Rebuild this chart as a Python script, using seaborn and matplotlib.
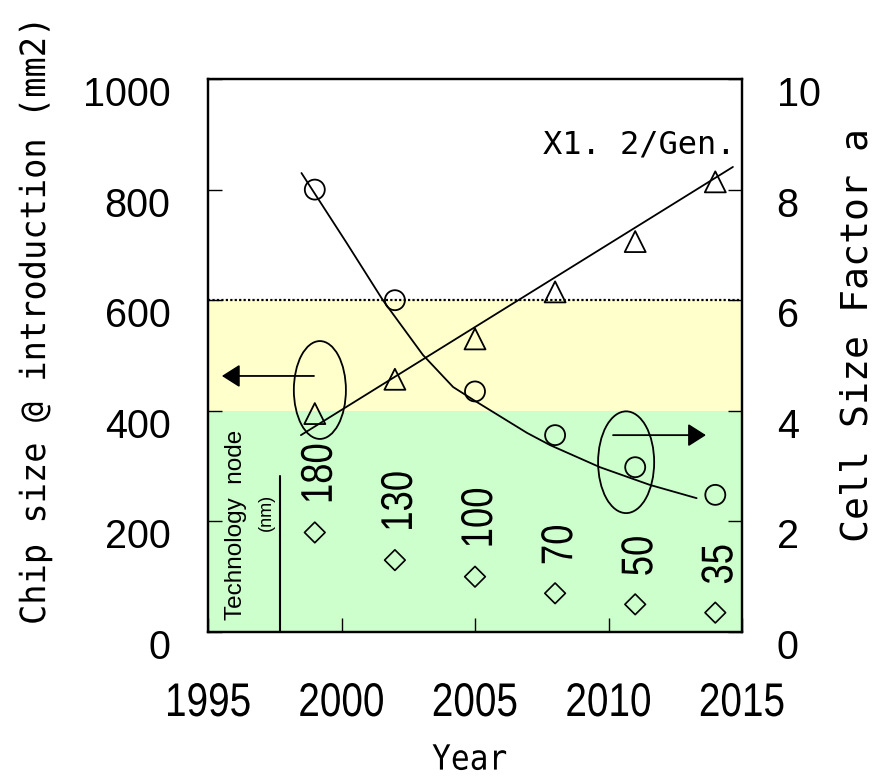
import numpy as np
import pandas as pd
import matplotlib
matplotlib.use("Agg")
import matplotlib.pyplot as plt
import seaborn as sns
from matplotlib.patches import Ellipse
from matplotlib.path import Path
from matplotlib.patheffects import AbstractPathEffect
from matplotlib.transforms import ScaledTranslation, Affine2D

# ---------------- data ----------------
years = [1999, 2002, 2005, 2008, 2011, 2014]
chip_size = [395, 457, 530, 615, 706, 814]          # mm2, left axis (triangles)
cell_factor = [8.0, 6.0, 4.35, 3.56, 2.98, 2.48]     # right axis (circles)
tech_node = [180, 130, 100, 70, 50, 35]              # nm, left axis (diamonds)
node_labels = ["180", "130", "100", "70", "50", "35"]

chip_fit_years = [1998.48, 2014.66]
chip_fit_vals = [356, 841]
cell_fit_years = [1998.5, 2000.2, 2001.55, 2003.05, 2004.18, 2004.93,
                  2006.95, 2007.81, 2009.68, 2011.55, 2013.3]
cell_fit_vals = [8.30, 7.03, 6.00, 5.01, 4.43, 4.20,
                 3.60, 3.38, 2.98, 2.66, 2.42]

x_ticks = [1995, 2000, 2005, 2010, 2015]
y_ticks_left = [0, 200, 400, 600, 800, 1000]
y_ticks_right = [0, 2, 4, 6, 8, 10]

green_band = (0, 400)
yellow_band = (400, 600)

title_note = "X1. 2/Gen."
tech_title = "Technology  node"
tech_unit = "(nm)"


class Condense(AbstractPathEffect):
    """Draw text glyphs compressed along the text direction (narrow face)."""

    def __init__(self, sx, anchor="center"):
        super().__init__()
        self.sx = sx
        self.anchor = anchor

    def draw_path(self, renderer, gc, tpath, affine, rgbFace=None):
        v = tpath.vertices
        if tpath.codes is not None:
            v = v[tpath.codes != Path.CLOSEPOLY]
        if len(v):
            x0 = np.nanmin(v[:, 0]) if self.anchor == "left" else \
                0.5 * (np.nanmin(v[:, 0]) + np.nanmax(v[:, 0]))
        else:
            x0 = 0.0
        t = Affine2D().translate(-x0, 0).scale(self.sx, 1).translate(x0, 0)
        renderer.draw_path(gc, tpath, t + affine, rgbFace)


# ---------------- style ----------------
sns.set_theme(style="white")
plt.rcParams["font.family"] = ["Liberation Sans", "DejaVu Sans"]
MONO = ["DejaVu Sans Mono"]

fig = plt.figure(figsize=(8.79, 7.78), dpi=100)
ax = fig.add_axes([208 / 879, 1 - 632 / 778, 534 / 879, 553 / 778])
ax.set_xlim(1995, 2015)
ax.set_ylim(0, 1000)

ax.axhspan(*green_band, color="#CCFFCC", lw=0, zorder=0)
ax.axhspan(*yellow_band, color="#FFFFCC", lw=0, zorder=0)
ax.axhline(yellow_band[1], color="black", lw=1.6, ls=(0, (1, 1)), zorder=1)

chip_df = pd.DataFrame({"year": years, "chip": chip_size, "node": tech_node})
chip_fit = pd.DataFrame({"year": chip_fit_years, "val": chip_fit_vals})
cell_df = pd.DataFrame({"year": years, "cell": cell_factor})
cell_fit = pd.DataFrame({"year": cell_fit_years, "val": cell_fit_vals})

sns.lineplot(data=chip_fit, x="year", y="val", ax=ax, color="black",
             lw=1.3, sort=False, estimator=None, zorder=3)
sns.scatterplot(data=chip_df, x="year", y="chip", ax=ax, marker="^", s=228,
                color="none", edgecolor="black", linewidth=1.3, zorder=4)
sns.scatterplot(data=chip_df, x="year", y="node", ax=ax, marker="D", s=110,
                color="none", edgecolor="black", linewidth=1.2, zorder=4)

for yr, val, lab in zip(years, tech_node, node_labels):
    ax.annotate(lab, xy=(yr, val), xytext=(4, 20), textcoords="offset points",
                rotation=90, ha="center", va="bottom", fontsize=32,
                color="black", path_effects=[Condense(0.82, "left")])

# technology node caption
ax.text(1996.05, 193, tech_title, rotation=90, ha="center", va="center",
        fontsize=17.5, color="black")
ax.text(1997.17, 217, tech_unit, rotation=90, ha="center", va="center",
        fontsize=13, color="black")
ax.plot([1997.7, 1997.7], [0, 282], color="black", lw=1.5)

# ellipses and arrows
ax.add_patch(Ellipse((1999.19, 437.6), 1.95, 177, fill=False, ec="black", lw=1.3, zorder=5))
ax.add_patch(Ellipse((2010.66, 307), 2.1, 184, fill=False, ec="black", lw=1.3, zorder=5))
arrow_kw = dict(arrowstyle="-|>,head_length=0.55,head_width=0.35", color="black",
                lw=1.3, shrinkA=0, shrinkB=0, mutation_scale=20)
ax.annotate("", xy=(1995.52, 463), xytext=(1998.97, 463), arrowprops=arrow_kw)
ax.annotate("", xy=(2013.65, 356), xytext=(2010.17, 356), arrowprops=arrow_kw)

ax.text(2014.74, 866, title_note, ha="right", va="baseline", fontsize=23,
        family=MONO, color="black")

# ---------------- right axis ----------------
ax2 = ax.twinx()
ax2.set_ylim(0, 10)
sns.lineplot(data=cell_fit, x="year", y="val", ax=ax2, color="black",
             lw=1.3, sort=False, estimator=None, zorder=3)
sns.scatterplot(data=cell_df, x="year", y="cell", ax=ax2, marker="o", s=207,
                color="none", edgecolor="black", linewidth=1.3, zorder=4)

# ---------------- axes, ticks, labels ----------------
ax.set_xticks(x_ticks)
ax.set_yticks(y_ticks_left)
ax2.set_yticks(y_ticks_right)
ax.set_xlabel("")
ax.set_ylabel("")
ax2.set_ylabel("")

ax.tick_params(axis="x", direction="in", length=10, width=1, bottom=True, top=False,
               pad=36, labelsize=34, colors="black")
ax.tick_params(axis="y", direction="in", length=10, width=1, left=True, right=False,
               pad=27, labelsize=28.5, colors="black")
ax2.tick_params(axis="y", direction="in", length=10, width=1, right=True, left=False,
                pad=25, labelsize=28.5, colors="black")

for a in (ax, ax2):
    for sp in a.spines.values():
        sp.set_color("black")
        sp.set_linewidth(1.6)
        sp.set_visible(True)

ax.set_ylabel("Chip size @ introduction (mm2)", family=MONO, fontsize=25, color="black",
              path_effects=[Condense(0.97)])
ax.yaxis.set_label_coords(-0.292, 0.562)
ax2.set_ylabel("Cell Size Factor a", family=MONO, fontsize=27.5, color="black")
ax2.yaxis.set_label_coords(1.183, 0.537)
ax.set_xlabel("Year", family=MONO, fontsize=25, color="black",
              path_effects=[Condense(0.9)])
ax.xaxis.set_label_coords(0.49, -0.200)

for lbl in ax.get_xticklabels():
    lbl.set_path_effects([Condense(0.82)])

shift = ScaledTranslation(0, -0.12, fig.dpi_scale_trans)
for lbl in ax.get_yticklabels() + ax2.get_yticklabels():
    lbl.set_transform(lbl.get_transform() + shift)

fig.savefig("out.png", dpi=100)
